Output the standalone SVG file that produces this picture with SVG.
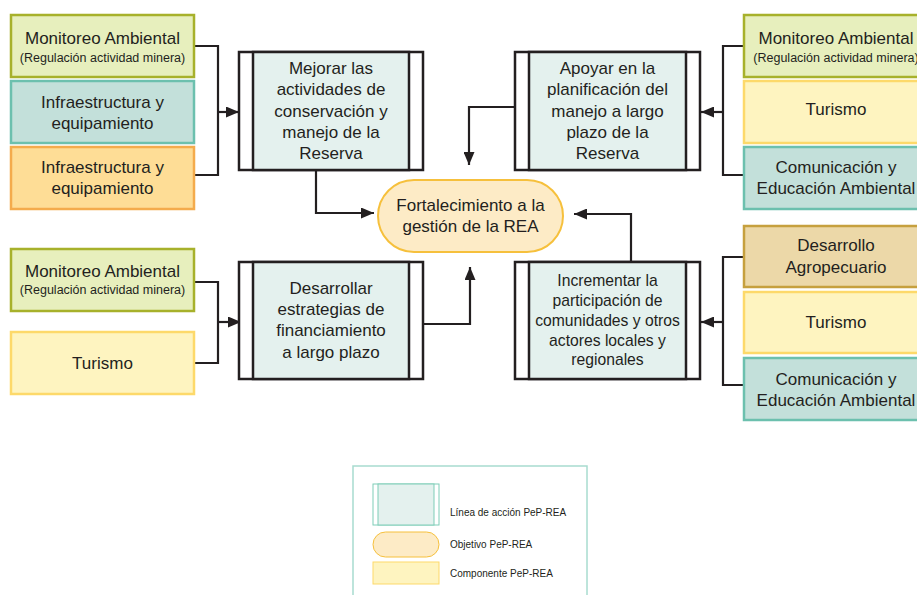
<svg xmlns="http://www.w3.org/2000/svg" width="917" height="595" viewBox="0 0 917 595">
<style>
text{font-family:"Liberation Sans",Arial,sans-serif;fill:#231f20;text-anchor:middle}
.t{font-size:17px}
.s{font-size:12.5px}
.a{font-size:15.7px}
.l{font-size:10px;text-anchor:start}
.mon{fill:#e7efbd;stroke:#a7b12b;stroke-width:2.5}
.tea{fill:#c3e0da;stroke:#6cc0ae;stroke-width:2.5}
.ora{fill:#fedd96;stroke:#f4ab4c;stroke-width:2.5}
.tur{fill:#fef4c0;stroke:#fdd96a;stroke-width:2.5}
.agr{fill:#ecd8a8;stroke:#c6a03e;stroke-width:2.5}
.out{fill:#fff;stroke:#231f20;stroke-width:2.5}
.inn{fill:#e4f1ee;stroke:#231f20;stroke-width:2.5}
.obj{fill:#fdebc6;stroke:#f6c03c;stroke-width:2}
.c{fill:none;stroke:#231f20;stroke-width:2.2}
</style>
<defs>
<marker id="ah" markerWidth="13" markerHeight="11" refX="13" refY="5.5" orient="auto" markerUnits="userSpaceOnUse">
<path d="M0,0 L13,5.5 L0,11 z" fill="#231f20"/>
</marker>
</defs>

<g id="connectors">
<path class="c" d="M194,46 H218 V175 H194"/>
<path class="c" d="M218,112 H239" marker-end="url(#ah)"/>
<path class="c" d="M316,170 V213 H374" marker-end="url(#ah)"/>
<path class="c" d="M515,107 H469 V165" marker-end="url(#ah)"/>
<path class="c" d="M744,46 H723 V175 H744"/>
<path class="c" d="M723,112 H701" marker-end="url(#ah)"/>
<path class="c" d="M194,282 H218 V363 H194"/>
<path class="c" d="M218,322 H241" marker-end="url(#ah)"/>
<path class="c" d="M423,324 H470 V267" marker-end="url(#ah)"/>
<path class="c" d="M631,262 V214 H574" marker-end="url(#ah)"/>
<path class="c" d="M744,257 H723 V385 H744"/>
<path class="c" d="M723,322 H701" marker-end="url(#ah)"/>
</g>

<g id="comp-l1">
<rect class="mon" x="11" y="15" width="183" height="62"/>
<text class="t" x="102.5" y="44">Monitoreo Ambiental</text>
<text class="s" x="102.5" y="61.5">(Regulación actividad minera)</text>
</g>
<g id="comp-l2">
<rect class="tea" x="11" y="81" width="183" height="62"/>
<text class="t" x="102.5" y="108">Infraestructura y</text>
<text class="t" x="102.5" y="129">equipamiento</text>
</g>
<g id="comp-l3">
<rect class="ora" x="11" y="147" width="183" height="62"/>
<text class="t" x="102.5" y="173">Infraestructura y</text>
<text class="t" x="102.5" y="194">equipamiento</text>
</g>
<g id="comp-l4">
<rect class="mon" x="11" y="249" width="183" height="62"/>
<text class="t" x="102.5" y="277">Monitoreo Ambiental</text>
<text class="s" x="102.5" y="294">(Regulación actividad minera)</text>
</g>
<g id="comp-l5">
<rect class="tur" x="11" y="332" width="183" height="62"/>
<text class="t" x="102.5" y="369">Turismo</text>
</g>

<g id="comp-r1">
<rect class="mon" x="744" y="15" width="184" height="62"/>
<text class="t" x="836" y="44">Monitoreo Ambiental</text>
<text class="s" x="836" y="61.5">(Regulación actividad minera)</text>
</g>
<g id="comp-r2">
<rect class="tur" x="744" y="81" width="184" height="62"/>
<text class="t" x="836" y="115">Turismo</text>
</g>
<g id="comp-r3">
<rect class="tea" x="744" y="147" width="184" height="62"/>
<text class="t" x="836" y="173">Comunicación y</text>
<text class="t" x="836" y="194">Educación Ambiental</text>
</g>
<g id="comp-r4">
<rect class="agr" x="744" y="226" width="184" height="61"/>
<text class="t" x="836" y="251">Desarrollo</text>
<text class="t" x="836" y="273">Agropecuario</text>
</g>
<g id="comp-r5">
<rect class="tur" x="744" y="292" width="184" height="61"/>
<text class="t" x="836" y="328">Turismo</text>
</g>
<g id="comp-r6">
<rect class="tea" x="744" y="358" width="184" height="62"/>
<text class="t" x="836" y="385">Comunicación y</text>
<text class="t" x="836" y="406">Educación Ambiental</text>
</g>

<g id="action-1">
<rect class="out" x="239" y="52" width="184" height="118"/>
<rect class="inn" x="253" y="52" width="156" height="118"/>
<text class="t" x="331" y="74">Mejorar las</text>
<text class="t" x="331" y="95">actividades de</text>
<text class="t" x="331" y="117">conservación y</text>
<text class="t" x="331" y="138">manejo de la</text>
<text class="t" x="331" y="159">Reserva</text>
</g>
<g id="action-2">
<rect class="out" x="515" y="52" width="185" height="118"/>
<rect class="inn" x="529" y="52" width="157" height="118"/>
<text class="t" x="607.5" y="74">Apoyar en la</text>
<text class="t" x="607.5" y="95">planificación del</text>
<text class="t" x="607.5" y="117">manejo a largo</text>
<text class="t" x="607.5" y="138">plazo de la</text>
<text class="t" x="607.5" y="159">Reserva</text>
</g>
<g id="action-3">
<rect class="out" x="239" y="262" width="184" height="117"/>
<rect class="inn" x="253" y="262" width="156" height="117"/>
<text class="t" x="331" y="294">Desarrollar</text>
<text class="t" x="331" y="315">estrategias de</text>
<text class="t" x="331" y="336">financiamiento</text>
<text class="t" x="331" y="358">a largo plazo</text>
</g>
<g id="action-4">
<rect class="out" x="515" y="262" width="185" height="117"/>
<rect class="inn" x="529" y="262" width="157" height="117"/>
<text class="a" x="607.5" y="285.5">Incrementar la</text>
<text class="a" x="607.5" y="305.5">participación de</text>
<text class="a" x="607.5" y="325.5">comunidades y otros</text>
<text class="a" x="607.5" y="345.5">actores locales y</text>
<text class="a" x="607.5" y="365">regionales</text>
</g>

<g id="objective">
<rect class="obj" x="378" y="180" width="185" height="72" rx="36" ry="36"/>
<text class="t" x="470.5" y="211">Fortalecimiento a la</text>
<text class="t" x="470.5" y="232">gestión de la REA</text>
</g>

<g id="legend">
<rect x="353" y="466" width="234" height="140" fill="#fff" stroke="#a8dccf" stroke-width="1.5"/>
<rect x="373" y="484" width="66" height="41" fill="#fff" stroke="#7fcdb8" stroke-width="1"/>
<rect x="378" y="484" width="56" height="41" fill="#e4f1ee" stroke="#7fcdb8" stroke-width="1"/>
<text class="l" x="450" y="515.5">Línea de acción PeP-REA</text>
<rect x="373" y="532" width="66" height="25" rx="12.5" ry="12.5" fill="#fdebc6" stroke="#f6c03c" stroke-width="1"/>
<text class="l" x="450" y="547.5">Objetivo PeP-REA</text>
<rect x="373" y="562" width="66" height="22" fill="#fef4c0" stroke="#fdd96a" stroke-width="1"/>
<text class="l" x="450" y="576.5">Componente PeP-REA</text>
</g>
</svg>
